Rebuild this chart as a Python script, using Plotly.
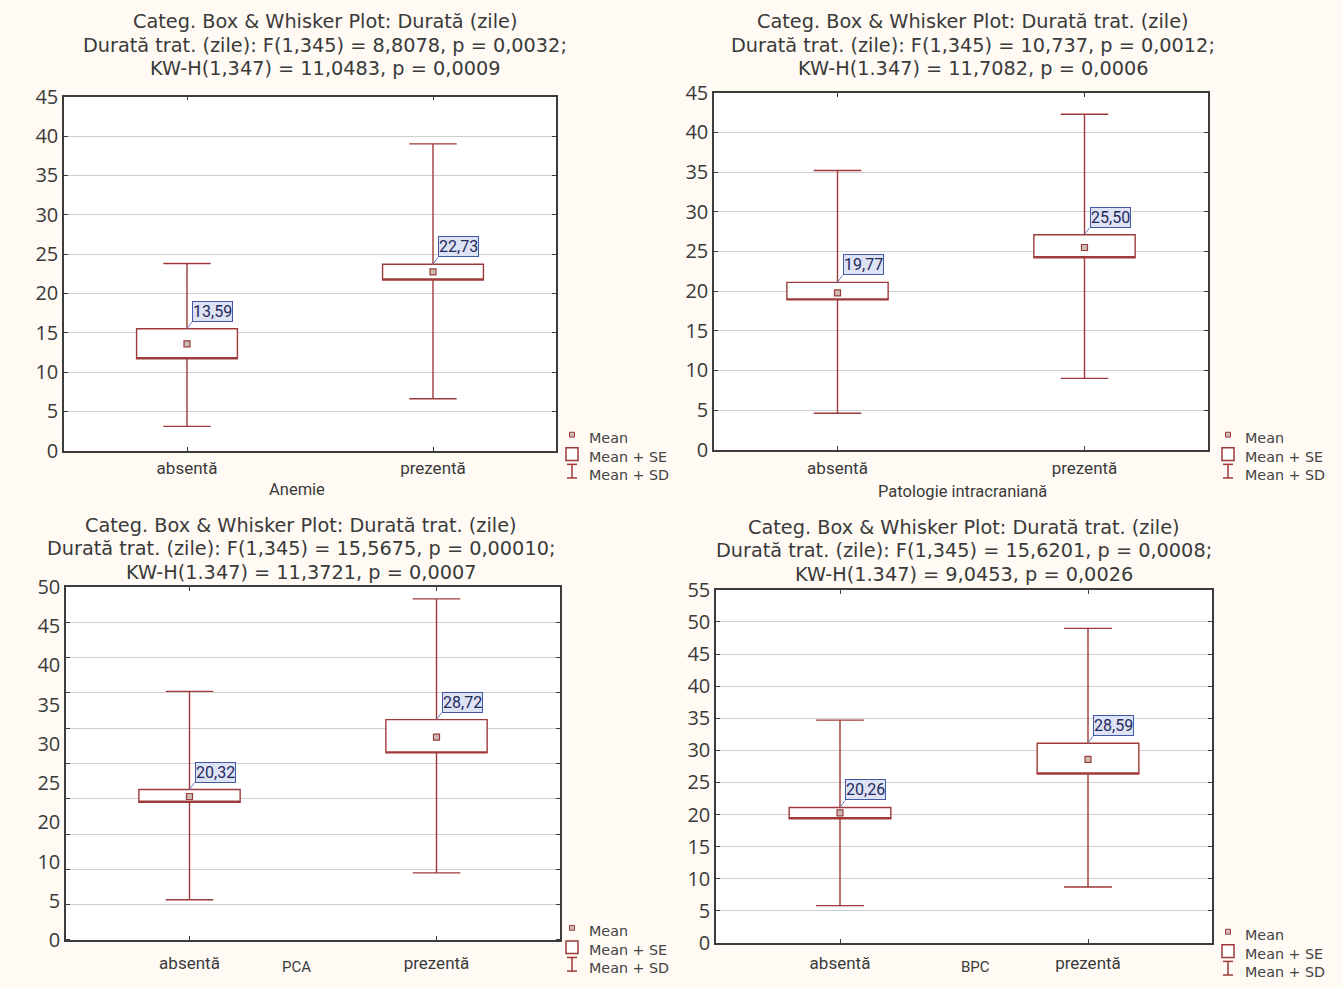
import numpy as np
import plotly.graph_objects as go

W, H = 1342, 988
RED = "#9e3a3a"
GRID = "#cfcfcf"
FRAME = "#3c3c3c"
TXT = "#3a3a3a"
FONT = "Open Sans, Noto Sans, sans-serif"
TITLE_FONT = "DejaVu Sans, sans-serif"
NARROW = "Liberation Sans Narrow, Roboto, sans-serif"

categories = ["absentă", "prezentă"]

title_lines = [
    ["Categ. Box & Whisker Plot: Durată (zile)",
     "Durată trat. (zile): F(1,345) = 8,8078, p = 0,0032;",
     "KW-H(1,347) = 11,0483, p = 0,0009"],
    ["Categ. Box & Whisker Plot: Durată trat. (zile)",
     "Durată trat. (zile): F(1,345) = 10,737, p = 0,0012;",
     "KW-H(1.347) = 11,7082, p = 0,0006"],
    ["Categ. Box & Whisker Plot: Durată trat. (zile)",
     "Durată trat. (zile): F(1,345) = 15,5675, p = 0,00010;",
     "KW-H(1.347) = 11,3721, p = 0,0007"],
    ["Categ. Box & Whisker Plot: Durată trat. (zile)",
     "Durată trat. (zile): F(1,345) = 15,6201, p = 0,0008;",
     "KW-H(1.347) = 9,0453, p = 0,0026"],
]
x_titles = ["Anemie", "Patologie intracraniană", "PCA", "BPC"]
legend_items = ["Mean", "Mean + SE", "Mean + SD"]

# Anemie
anemie_mean = [13.59, 22.73]
anemie_se_lo = [11.7, 21.7]
anemie_se_hi = [15.5, 23.7]
anemie_sd_lo = [3.1, 6.6]
anemie_sd_hi = [23.8, 39.0]
# Patologie intracraniana
pat_mean = [19.77, 25.50]
pat_se_lo = [18.9, 24.2]
pat_se_hi = [21.1, 27.1]
pat_sd_lo = [4.6, 9.0]
pat_sd_hi = [35.2, 42.3]
# PCA
pca_mean = [20.32, 28.72]
pca_se_lo = [19.5, 26.5]
pca_se_hi = [21.3, 31.2]
pca_sd_lo = [5.7, 9.5]
pca_sd_hi = [35.2, 48.3]
# BPC
bpc_mean = [20.26, 28.59]
bpc_se_lo = [19.35, 26.3]
bpc_se_hi = [21.1, 31.1]
bpc_sd_lo = [5.8, 8.7]
bpc_sd_hi = [34.7, 49.0]

y_tick_labels = [
    ["0", "5", "10", "15", "20", "25", "30", "35", "40", "45"],
    ["0", "5", "10", "15", "20", "25", "30", "35", "40", "45"],
    ["0", "5", "10", "20", "25", "30", "35", "40", "45", "50"],
    ["0", "5", "10", "15", "20", "25", "30", "35", "40", "45", "50", "55"],
]
y_max = [45, 45, 50, 55]

panels = [
    (anemie_mean, anemie_se_lo, anemie_se_hi, anemie_sd_lo, anemie_sd_hi),
    (pat_mean, pat_se_lo, pat_se_hi, pat_sd_lo, pat_sd_hi),
    (pca_mean, pca_se_lo, pca_se_hi, pca_sd_lo, pca_sd_hi),
    (bpc_mean, bpc_se_lo, bpc_se_hi, bpc_sd_lo, bpc_sd_hi),
]

# layout in pixels
frames = [(64, 85, 556, 449), (714, 81, 1208, 448), (66, 589, 560, 952), (716, 592, 1212, 955)]
title_x = [325, 973, 301, 964]
title_y = [(8, 32, 56), (8, 32, 56), (526, 550, 574), (528, 552, 576)]
xtitle_pos = [(297, 489), (962, 491), (296, 979.5), (975, 979.5)]
xtitle_size = [16.5, 16.5, 15, 15]
cat_standoff = [1, 2, 7, 4]
legend_pos = [(567, 436), (1223, 436), (567, 943), (1223, 947)]


def px(x):
    return x / W


def py(y):
    return 1 - y / H


fig = go.Figure()
annotations = []
shapes = []

for k, (mean, se_lo, se_hi, sd_lo, sd_hi) in enumerate(panels):
    sfx = "" if k == 0 else str(k + 1)
    xa, ya = "x" + sfx, "y" + sfx
    fig.add_trace(go.Box(
        x=categories, q1=se_lo, median=se_lo, q3=se_hi,
        lowerfence=sd_lo, upperfence=sd_hi,
        width=0.41, whiskerwidth=0.47, fillcolor="white",
        line=dict(color=RED, width=1.4), boxpoints=False,
        xaxis=xa, yaxis=ya, showlegend=False, hoverinfo="skip"))
    fig.add_trace(go.Scatter(
        x=categories, y=mean, mode="markers",
        marker=dict(symbol="square", size=6, color="#c9bfb8", line=dict(color=RED, width=1.2)),
        xaxis=xa, yaxis=ya, showlegend=False, hoverinfo="skip"))
    for i, c in enumerate(categories):
        annotations.append(dict(
            x=c, y=se_hi[i], xref=xa, yref=ya,
            text=f"{mean[i]:.2f}".replace(".", ","),
            showarrow=True, arrowhead=0, arrowwidth=1, arrowcolor="#6d7fc4",
            ax=5, ay=-7, xanchor="left", yanchor="bottom",
            bgcolor="#dde2f4", bordercolor="#4458a8", borderwidth=1, borderpad=0,
            font=dict(family=NARROW, size=16, color="#1f2a5c")))

    l, t, r, b = frames[k]
    xaxis = dict(domain=[px(l), px(r)], anchor=ya, type="category", range=[-0.5, 1.5],
                 showline=True, linecolor=FRAME, linewidth=1.5, mirror="ticks",
                 ticks="inside", ticklen=4, tickcolor=FRAME, showgrid=False,
                 ticklabelstandoff=cat_standoff[k],
                 tickfont=dict(family=NARROW, size=17, color=TXT))
    labels = y_tick_labels[k]
    yaxis = dict(domain=[py(b), py(t)], anchor=xa, range=[0, y_max[k]],
                 showline=True, linecolor=FRAME, linewidth=1.5, mirror="ticks",
                 zeroline=False, tickfont=dict(family=FONT, size=20, color=TXT))
    if k == 2:
        yaxis.update(tickmode="array",
                     tickvals=list(np.linspace(0, y_max[k], len(labels))),
                     ticktext=labels, ticks="", showgrid=False,
                     minor=dict(tickmode="linear", tick0=0, dtick=5, showgrid=True,
                                gridcolor=GRID, gridwidth=1, ticks="inside",
                                ticklen=4, tickcolor=FRAME))
    else:
        yaxis.update(tickmode="array",
                     tickvals=[float(v) for v in labels], ticktext=labels,
                     ticks="inside", ticklen=4, tickcolor=FRAME,
                     showgrid=True, gridcolor=GRID, gridwidth=1)
    fig.update_layout(**{"xaxis" + sfx: xaxis, "yaxis" + sfx: yaxis})

    for line, ty in zip(title_lines[k], title_y[k]):
        annotations.append(dict(x=px(title_x[k]), y=py(ty), xref="paper", yref="paper",
                                xanchor="center", yanchor="middle", showarrow=False,
                                text=line, font=dict(family=TITLE_FONT, size=19.3, color=TXT)))
    ax_, ay_ = xtitle_pos[k]
    annotations.append(dict(x=px(ax_), y=py(ay_), xref="paper", yref="paper",
                            xanchor="center", yanchor="middle", showarrow=False,
                            text=x_titles[k],
                            font=dict(family=NARROW, size=xtitle_size[k], color=TXT)))

    # legend (one text block, three lines)
    lx, ly = legend_pos[k]
    annotations.append(dict(x=px(lx + 20), y=py(ly + 18.5), xref="paper", yref="paper",
                            xanchor="left", yanchor="middle", showarrow=False, align="left",
                            text="<br>".join(legend_items),
                            font=dict(family="DejaVu Sans, sans-serif", size=14.3, color="#444")))
    cx = lx + 5
    shapes.append(dict(type="rect", xref="paper", yref="paper",
                       x0=px(cx - 2.5), x1=px(cx + 2.5), y0=py(ly - 1), y1=py(ly - 6),
                       line=dict(color=RED, width=1), fillcolor="#c9bfb8"))
    shapes.append(dict(type="rect", xref="paper", yref="paper",
                       x0=px(cx - 6), x1=px(cx + 6), y0=py(ly + 23), y1=py(ly + 10),
                       line=dict(color=RED, width=1.5), fillcolor="white"))
    for (x0, y0), (x1, y1) in [((cx, ly + 27), (cx, ly + 41)),
                               ((cx - 5, ly + 27), (cx + 5, ly + 27)),
                               ((cx - 5, ly + 41), (cx + 5, ly + 41))]:
        shapes.append(dict(type="line", xref="paper", yref="paper",
                           x0=px(x0), y0=py(y0), x1=px(x1), y1=py(y1),
                           line=dict(color=RED, width=1.5)))

fig.update_layout(
    width=W, height=H, margin=dict(l=0, r=0, t=0, b=0),
    paper_bgcolor="#fffbf4", plot_bgcolor="white",
    annotations=annotations, shapes=shapes, showlegend=False,
)

fig.write_html(
    "out.html",
    config={"displayModeBar": False},
    post_script="document.body.style.margin='0px';document.documentElement.style.overflow='hidden';",
)
